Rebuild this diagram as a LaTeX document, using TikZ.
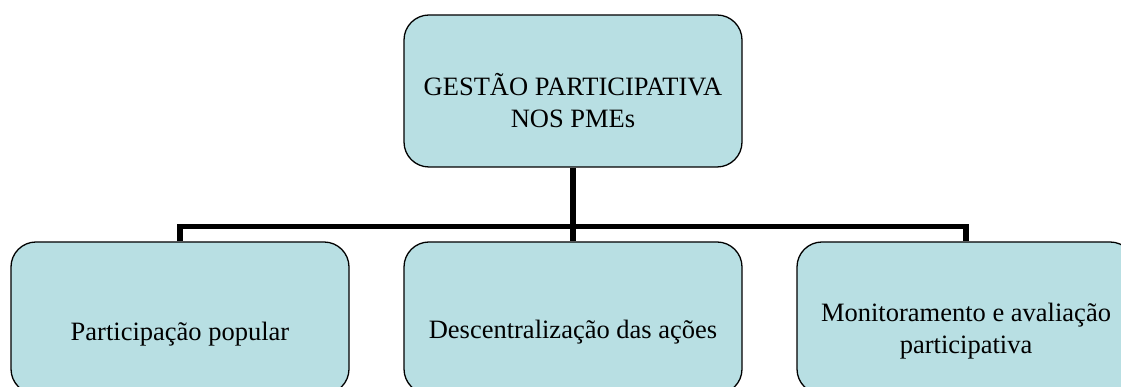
\documentclass[tikz,border=0pt]{standalone}
\usepackage{fontspec}
\setmainfont{Liberation Serif}
\usepackage{xcolor}
\usetikzlibrary{calc}
\definecolor{caixa}{HTML}{B8DFE3}

\begin{document}
\begin{tikzpicture}[x=1pt,y=1pt,line join=miter,
  bloco/.style={draw=black,line width=1.3pt,fill=caixa,rounded corners=25pt,
    minimum width=338pt,minimum height=152pt,inner sep=0pt},
  texto/.style={align=center,font=\fontsize{26.5}{32}\selectfont,inner sep=0pt},
  ligacao/.style={line width=5.5pt}]
\clip (0,0) rectangle (1121,387);
\coordinate (barra) at (573,160.5);
\node[bloco] (topo) at (573,296) {};
\node[bloco] (esq) at (180,69) {};
\node[bloco] (meio) at (573,69) {};
\node[bloco] (dir) at (966,69) {};
\draw[ligacao] (topo.south) -- (meio.north);
\draw[ligacao] (esq.north) |- (dir.north |- barra) -- (dir.north);
\node[texto] (ttopo) at ($(topo.center)+(0,-10)$) {GESTÃO PARTICIPATIVA\\NOS PMEs};
\node[texto] (tesq) at ($(esq.center)+(0,-16)$) {Participação popular};
\node[texto] (tmeio) at ($(meio.center)+(0,-14)$) {Descentralização das ações};
\node[texto] (tdir) at ($(dir.center)+(0,-13.5)$) {Monitoramento e avaliação\\participativa};
\end{tikzpicture}
\end{document}
